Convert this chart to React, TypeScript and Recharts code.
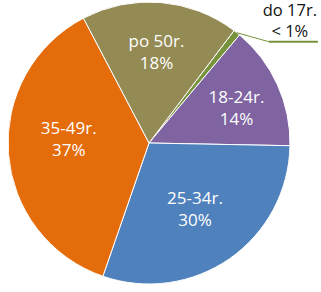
import React from "react";
import { PieChart, Pie, Cell } from "recharts";

const categories = ["do 17r.", "18-24r.", "25-34r.", "35-49r.", "po 50r."];
const values = [0.8, 14.2, 30, 37, 18];
const valueLabels = ["< 1%", "14%", "30%", "37%", "18%"];
const colors = ["#77933C", "#8064A2", "#4F81BD", "#E46C0A", "#948A54"];

const data = categories.map((name, i) => ({ name, value: values[i], pct: valueLabels[i] }));

const labelRadius = [1, 0.67, 0.57, 0.57, 0.65];
const labelAngleShift = [0, -2.3, 0, -7.4, 0];
const RAD = Math.PI / 180;
const FONT = "'Open Sans', sans-serif";

const renderLabel = (props: any) => {
  const { cx, cy, midAngle, outerRadius, index } = props;
  const d = data[index];
  if (index === 0) {
    const x1 = cx + outerRadius * Math.cos(-midAngle * RAD);
    const y1 = cy + outerRadius * Math.sin(-midAngle * RAD);
    const x2 = x1 + 32;
    const y2 = y1 + 9;
    const x3 = x2 + 49;
    return (
      <g>
        <polyline points={`${x1},${y1} ${x2},${y2}`} stroke="#77933C" strokeWidth={1} fill="none" />
        <line x1={x2} y1={y2} x2={x3} y2={y2} stroke="#77933C" strokeWidth={2} />
        <text x={x2 + 21} y={y2 - 32} textAnchor="middle" dominantBaseline="central" fill="#111" fontSize={16.5} fontFamily={FONT}>
          {d.name}
        </text>
        <text x={x2 + 21} y={y2 - 11} textAnchor="middle" dominantBaseline="central" fill="#111" fontSize={16.5} fontFamily={FONT}>
          {d.pct}
        </text>
      </g>
    );
  }
  const a = (midAngle + labelAngleShift[index]) * RAD;
  const r = outerRadius * labelRadius[index];
  const x = cx + r * Math.cos(-a);
  const y = cy + r * Math.sin(-a);
  return (
    <g>
      <text x={x} y={y - 11} textAnchor="middle" dominantBaseline="central" fill="#fff" fontSize={17} fontFamily={FONT}>
        {d.name}
      </text>
      <text x={x} y={y + 11} textAnchor="middle" dominantBaseline="central" fill="#fff" fontSize={17} fontFamily={FONT}>
        {d.pct}
      </text>
    </g>
  );
};

export default function App() {
  return (
    <div style={{ position: "absolute", left: 0, top: 0, width: 321, height: 292, background: "#fff" }}>
      <PieChart width={321} height={292} margin={{ top: 0, right: 0, bottom: 0, left: 0 }}>
        <Pie
          data={data}
          dataKey="value"
          nameKey="name"
          cx={149}
          cy={143}
          outerRadius={141}
          startAngle={52.9}
          endAngle={-307.1}
          stroke="#fff"
          strokeWidth={1}
          label={renderLabel}
          labelLine={false}
          isAnimationActive={false}
        >
          {data.map((_, i) => (
            <Cell key={i} fill={colors[i]} />
          ))}
        </Pie>
      </PieChart>
    </div>
  );
}
